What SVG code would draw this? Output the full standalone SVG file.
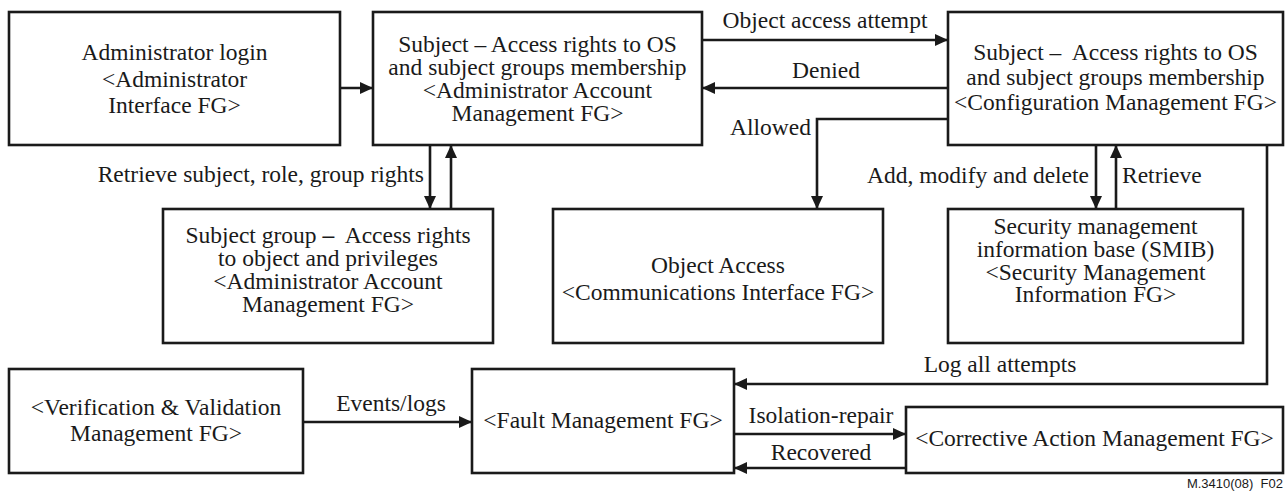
<svg xmlns="http://www.w3.org/2000/svg" width="1286" height="495" viewBox="0 0 1286 495">
  <defs>
    <marker id="arrow" markerUnits="userSpaceOnUse" markerWidth="13" markerHeight="12" refX="13" refY="6" orient="auto">
      <path d="M0,0 L13,6 L0,12 Z" fill="#1a1a1a"/>
    </marker>
    <style>
      .box { fill: #fff; stroke: #1a1a1a; stroke-width: 2.6; }
      .wire { fill: none; stroke: #1a1a1a; stroke-width: 2.6; }
      .arr { marker-end: url(#arrow); }
      text { font-family: "Liberation Serif", "Times New Roman", serif; font-size: 23.5px; fill: #1a1a1a; }
      .c { text-anchor: middle; }
      .r { text-anchor: end; }
      .b { font-weight: bold; }
      .ref { font-family: "Liberation Sans", Arial, sans-serif; font-size: 13px; text-anchor: end; }
    </style>
  </defs>
  <rect width="1286" height="495" fill="#fff"/>

  <!-- connectors -->
  <g id="connectors">
    <line class="wire arr" x1="340" y1="88" x2="373" y2="88"/>
    <line class="wire arr" x1="702" y1="40" x2="948" y2="40"/>
    <text class="c" x="825" y="28">Object access attempt</text>
    <line class="wire arr" x1="948" y1="88" x2="702" y2="88"/>
    <text class="c" x="826" y="78">Denied</text>
    <path class="wire arr" d="M948,119 H817 V209"/>
    <text class="r" x="811" y="135">Allowed</text>
    <line class="wire arr" x1="430" y1="145" x2="430" y2="209"/>
    <line class="wire arr" x1="451" y1="209" x2="451" y2="145"/>
    <text class="r" x="424" y="182">Retrieve subject, role, group rights</text>
    <line class="wire arr" x1="1096" y1="145" x2="1096" y2="209"/>
    <line class="wire arr" x1="1116" y1="209" x2="1116" y2="145"/>
    <text class="r" x="1089" y="183">Add, modify and delete</text>
    <text x="1122" y="183">Retrieve</text>
    <path class="wire arr" d="M1267,145 V384 H734"/>
    <text class="c" x="1000" y="372">Log all attempts</text>
    <line class="wire arr" x1="303" y1="422" x2="472" y2="422"/>
    <text class="c" x="391" y="411">Events/logs</text>
    <line class="wire arr" x1="734" y1="434" x2="906" y2="434"/>
    <text class="c" x="821" y="423">Isolation-repair</text>
    <line class="wire arr" x1="906" y1="468" x2="734" y2="468"/>
    <text class="c" x="821" y="460">Recovered</text>
  </g>

  <!-- nodes -->
  <g id="admin-login">
    <rect class="box" x="9" y="12" width="331" height="133"/>
    <text class="c" x="174.5" y="60">Administrator login</text>
    <text class="c" x="174.5" y="87">&lt;Administrator</text>
    <text class="c" x="174.5" y="113">Interface FG&gt;</text>
  </g>
  <g id="subject-admin">
    <rect class="box" x="373" y="12" width="329" height="133"/>
    <text class="c" x="537.5" y="52">Subject – Access rights to OS</text>
    <text class="c" x="537.5" y="75">and subject groups membership</text>
    <text class="c" x="537.5" y="98">&lt;Administrator Account</text>
    <text class="c" x="537.5" y="121">Management FG&gt;</text>
  </g>
  <g id="subject-config">
    <rect class="box" x="948" y="12" width="335" height="133"/>
    <text class="c" x="1115.5" y="60" xml:space="preserve">Subject –  Access rights to OS</text>
    <text class="c" x="1115.5" y="85">and subject groups membership</text>
    <text class="c" x="1115.5" y="110">&lt;Configuration Management FG&gt;</text>
  </g>
  <g id="subject-group">
    <rect class="box" x="163" y="209" width="330" height="134"/>
    <text class="c" x="328" y="243" xml:space="preserve">Subject group <tspan class="b">–</tspan>  Access rights</text>
    <text class="c" x="328" y="266">to object and privileges</text>
    <text class="c" x="328" y="289">&lt;Administrator Account</text>
    <text class="c" x="328" y="312">Management FG&gt;</text>
  </g>
  <g id="object-access">
    <rect class="box" x="553" y="209" width="330" height="134"/>
    <text class="c" x="718" y="273">Object Access</text>
    <text class="c" x="718" y="300">&lt;Communications Interface FG&gt;</text>
  </g>
  <g id="smib">
    <rect class="box" x="948" y="209" width="295" height="134"/>
    <text class="c" x="1095.5" y="234">Security management</text>
    <text class="c" x="1095.5" y="257">information base (SMIB)</text>
    <text class="c" x="1095.5" y="280">&lt;Security Management</text>
    <text class="c" x="1095.5" y="302">Information FG&gt;</text>
  </g>
  <g id="verification">
    <rect class="box" x="9" y="369" width="294" height="104"/>
    <text class="c" x="156" y="415">&lt;Verification &amp; Validation</text>
    <text class="c" x="156" y="441">Management FG&gt;</text>
  </g>
  <g id="fault">
    <rect class="box" x="472" y="369" width="262" height="104"/>
    <text class="c" x="603" y="428">&lt;Fault Management FG&gt;</text>
  </g>
  <g id="corrective">
    <rect class="box" x="906" y="407" width="377" height="66"/>
    <text class="c" x="1094.5" y="446">&lt;Corrective Action Management FG&gt;</text>
  </g>

  <text class="ref" x="1283" y="488" xml:space="preserve">M.3410(08)  F02</text>
</svg>
